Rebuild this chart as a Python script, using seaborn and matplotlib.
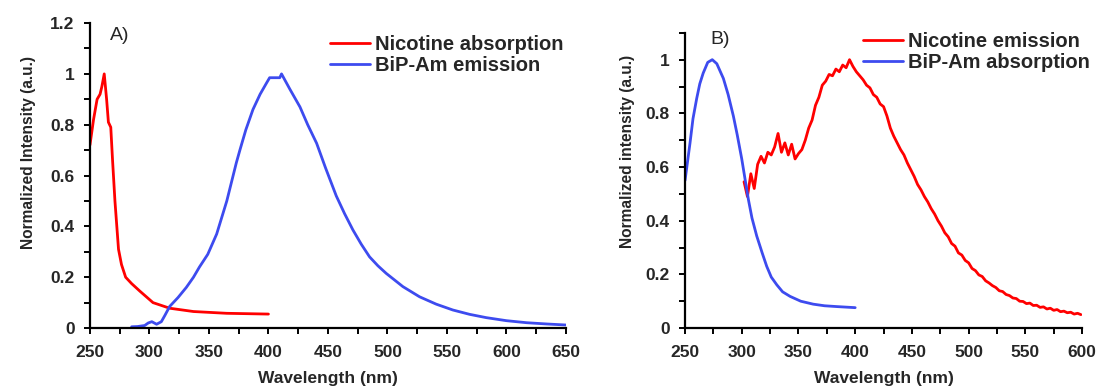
import numpy as np
import pandas as pd
import matplotlib
matplotlib.use("Agg")
import matplotlib.pyplot as plt
from matplotlib.ticker import MultipleLocator
import seaborn as sns

sns.set_style("white")
plt.rcParams["font.family"] = ["Liberation Sans", "DejaVu Sans"]

RED = "#FF0000"
BLUE = "#3D4BEF"

# Panel A: nicotine absorption
nic_abs_wl = [250, 253, 256, 258.5, 260, 262, 264, 265.5, 267.5, 269, 271, 274,
              276.5, 280, 285, 292, 303, 317, 337, 365, 400]
nic_abs_int = [0.72, 0.82, 0.90, 0.92, 0.95, 1.0, 0.90, 0.81, 0.79, 0.66, 0.50, 0.31,
               0.25, 0.20, 0.175, 0.145, 0.10, 0.078, 0.065, 0.058, 0.055]

# Panel A: BiP-Am emission
bip_em_wl = [285, 290, 296, 299, 302, 306, 310, 313, 317, 324, 331, 337, 342, 349,
             356.5, 365, 373, 376, 381, 387, 393, 398.5, 401, 405, 409.5, 411, 418,
             426.5, 433, 440.5, 448, 457, 464, 471, 478, 485, 492, 499, 513, 527,
             541, 555, 569, 583, 600, 617, 634, 650]
bip_em_int = [0.005, 0.006, 0.01, 0.02, 0.025, 0.015, 0.025, 0.05, 0.085, 0.12, 0.16,
              0.2, 0.24, 0.29, 0.37, 0.50, 0.65, 0.70, 0.78, 0.86, 0.92, 0.965, 0.985,
              0.985, 0.985, 1.0, 0.94, 0.87, 0.80, 0.727, 0.63, 0.52, 0.45, 0.386,
              0.33, 0.28, 0.245, 0.215, 0.163, 0.123, 0.094, 0.071, 0.054, 0.041,
              0.029, 0.021, 0.016, 0.012]

# Panel B: nicotine emission (302-599 nm, 3 nm steps)
nic_em_wl = list(range(302, 600, 3))
nic_em_int = [
    0.545, 0.49, 0.575, 0.52, 0.61, 0.64, 0.615, 0.655, 0.645, 0.675,
    0.725, 0.655, 0.69, 0.645, 0.685, 0.63, 0.65, 0.665, 0.70, 0.745,
    0.775, 0.83, 0.86, 0.905, 0.92, 0.945, 0.94, 0.965, 0.955, 0.98,
    0.97, 1.0, 0.975, 0.955, 0.94, 0.925, 0.905, 0.895, 0.87, 0.86,
    0.835, 0.825, 0.79, 0.745, 0.715, 0.69, 0.665, 0.645, 0.615, 0.59,
    0.565, 0.535, 0.515, 0.49, 0.47, 0.445, 0.425, 0.40, 0.38, 0.355,
    0.34, 0.315, 0.305, 0.28, 0.272, 0.252, 0.243, 0.222, 0.214, 0.198,
    0.192, 0.176, 0.168, 0.158, 0.151, 0.139, 0.136, 0.125, 0.121, 0.112,
    0.110, 0.100, 0.099, 0.091, 0.093, 0.084, 0.085, 0.077, 0.079, 0.071,
    0.074, 0.066, 0.069, 0.061, 0.063, 0.057, 0.059, 0.052, 0.055, 0.05,
]

# Panel B: BiP-Am absorption
bip_abs_wl = [250, 254.4, 257, 260.3, 263, 266, 270, 274, 278, 283.8, 288, 292.6,
              296, 300, 305.8, 309, 313.2, 318, 322, 326, 330.9, 336, 342.6, 352,
              363, 373, 383.7, 400]
bip_abs_int = [0.55, 0.69, 0.78, 0.856, 0.91, 0.95, 0.99, 1.0, 0.985, 0.93, 0.87,
               0.79, 0.72, 0.63, 0.48, 0.41, 0.343, 0.28, 0.23, 0.19, 0.161, 0.135,
               0.118, 0.10, 0.089, 0.083, 0.080, 0.076]

df_a = pd.concat([
    pd.DataFrame({"wl": nic_abs_wl, "val": nic_abs_int, "series": "Nicotine absorption"}),
    pd.DataFrame({"wl": bip_em_wl, "val": bip_em_int, "series": "BiP-Am emission"}),
])
df_b = pd.concat([
    pd.DataFrame({"wl": nic_em_wl, "val": nic_em_int, "series": "Nicotine emission"}),
    pd.DataFrame({"wl": bip_abs_wl, "val": bip_abs_int, "series": "BiP-Am absorption"}),
])

fig = plt.figure(figsize=(11.01, 3.91), dpi=100)
ax_a = fig.add_axes([0.0817, 0.161, 0.4323, 0.780])
ax_b = fig.add_axes([0.6222, 0.161, 0.3606, 0.755])

sns.lineplot(data=df_a, x="wl", y="val", hue="series", sort=False,
             palette={"Nicotine absorption": RED, "BiP-Am emission": BLUE},
             linewidth=2.0, ax=ax_a, estimator=None)
sns.lineplot(data=df_b, x="wl", y="val", hue="series", sort=False,
             palette={"Nicotine emission": RED, "BiP-Am absorption": BLUE},
             linewidth=2.0, ax=ax_b, estimator=None)

def style_axis(ax, xlim, ylim, ylabel, label_xy):
    ax.set_xlim(*xlim)
    ax.set_ylim(*ylim)
    for side in ("top", "right"):
        ax.spines[side].set_visible(False)
    for side in ("left", "bottom"):
        ax.spines[side].set_linewidth(1.6)
        ax.spines[side].set_color("black")
    ax.xaxis.set_major_locator(MultipleLocator(50))
    ax.xaxis.set_minor_locator(MultipleLocator(25))
    ax.yaxis.set_major_locator(MultipleLocator(0.2))
    ax.yaxis.set_minor_locator(MultipleLocator(0.1))
    ax.yaxis.set_major_formatter(plt.FuncFormatter(lambda v, p: f"{v:g}"))
    ax.tick_params(which="both", direction="out", length=4, width=1.4,
                   color="black", left=True, bottom=True)
    ax.tick_params(axis="x", which="major", labelsize=12.5, pad=8)
    ax.tick_params(axis="y", which="major", labelsize=12.5, pad=7)
    for lab in ax.get_xticklabels() + ax.get_yticklabels():
        lab.set_fontweight("bold")
    ax.set_xlabel("Wavelength (nm)", fontsize=12.5, fontweight="bold", labelpad=8)
    ax.set_ylabel(ylabel, fontsize=11.2, fontweight="bold", va="center")
    ax.yaxis.set_label_coords(*label_xy)

style_axis(ax_a, (250, 650), (0, 1.2), "Normalized Intensity (a.u.)", (-0.130, 0.577))
style_axis(ax_b, (250, 600), (0, 1.1), "Normalized intensity (a.u.)", (-0.144, 0.597))

ax_a.text(267, 1.15, "A)", fontsize=14, va="center", ha="left")
ax_b.text(272, 1.075, "B)", fontsize=14, va="center", ha="left")

for ax, anchor in ((ax_a, (0.2997, 0.910)), (ax_b, (0.784, 0.917))):
    leg = ax.legend(loc="upper left", bbox_to_anchor=anchor,
                    bbox_transform=fig.transFigure, frameon=False,
                    prop={"size": 14.5, "weight": "bold"}, handlelength=2.0,
                    handletextpad=0.25, labelspacing=0.08, borderaxespad=0,
                    borderpad=0)
    for line in leg.get_lines():
        line.set_linewidth(2.0)

fig.savefig("out.png", dpi=100)
